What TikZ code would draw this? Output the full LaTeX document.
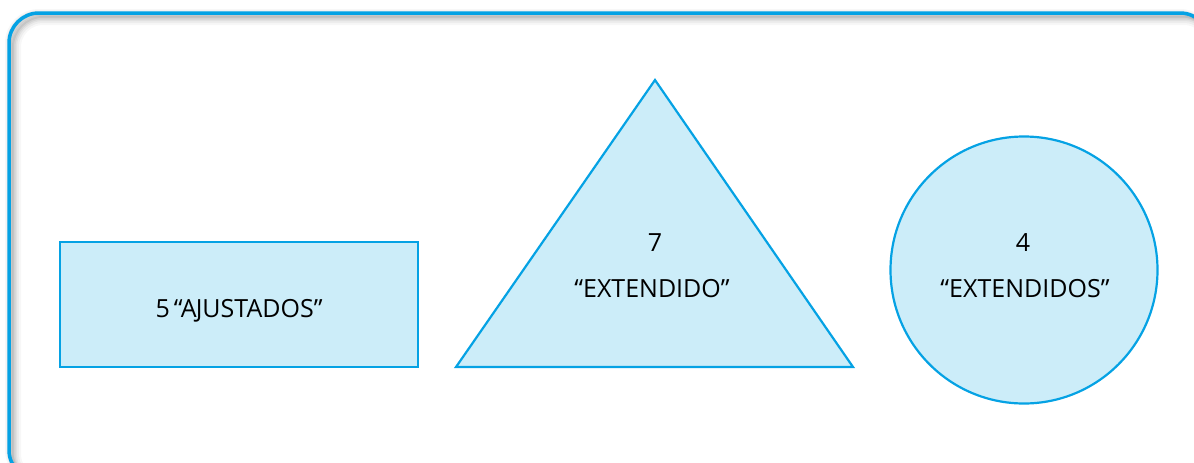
\documentclass[tikz,border=0pt]{standalone}
\usepackage{fontspec}
\setmainfont{Open Sans}
\definecolor{edge}{HTML}{05A2E4}
\definecolor{paleblue}{HTML}{CCEDF9}
\tikzset{
  shapeline/.style={draw=edge, line width=2.2pt, fill=paleblue, line join=miter},
  label/.style={font=\fontsize{25}{30}\selectfont, text=black, inner sep=0pt, anchor=base},
  framepath/.style={rounded corners=30pt}
}
\begin{document}
\begin{tikzpicture}[x=1pt,y=-1pt]
  \useasboundingbox (0,0) rectangle (1194,463);
  % soft shadow inside the frame along its top and left sides
  \begin{scope}
    \clip[framepath] (9,13) rectangle (1210,480);
    \foreach \d/\o in {16/0.03,12/0.04,8/0.05,5/0.06,2/0.07} {
      \draw[black, opacity=\o, line width=\d pt, framepath]
        (13,17) rectangle (1214,484);
    }
  \end{scope}
  % faint haze outside the frame
  \foreach \d/\o in {8/0.03,5/0.04} {
    \draw[black, opacity=\o, line width=\d pt, framepath] (9,13) rectangle (1210,480);
  }
  % outer frame
  \draw[edge, line width=3.5pt, framepath] (9,13) rectangle (1210,480);

  % shapes
  \draw[shapeline] (60,242) rectangle (418,367);
  \node (rect) at (239,305) {};
  \draw[shapeline] (655,80) -- (853,367) -- (456,367) -- cycle;
  \node (tri) at (655,260) {};
  \draw[shapeline] (1024,270) circle[radius=133.5pt];
  \node (circ) at (1024,270) {};

  % labels
  \node[label] (rectlabel) at (239,317) {5\,“A\kern-1pt JUSTADOS”};
  \node[label] (trinum) at (655,251) {7};
  \node[label] (trilabel) at (652,297) {“EXTENDIDO”};
  \node[label] (circnum) at (1023,251) {4};
  \node[label] (circlabel) at (1025,297) {“EXTENDIDOS”};
\end{tikzpicture}
\end{document}
